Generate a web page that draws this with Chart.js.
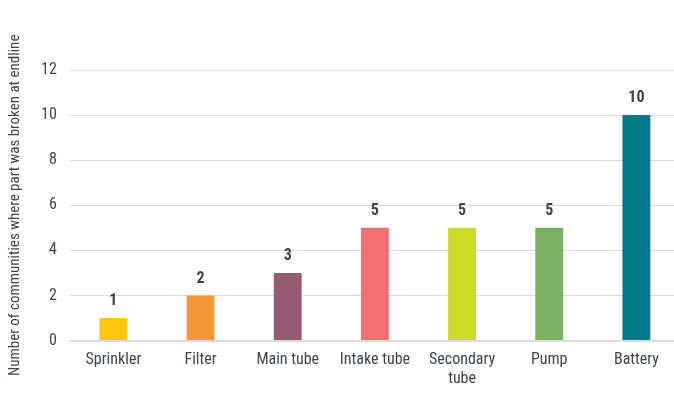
<!DOCTYPE html>
<html>
<head>
<meta charset="utf-8">
<script src="https://cdn.jsdelivr.net/npm/chart.js@4"></script>
<style>
  html, body { margin: 0; padding: 0; background: #fff; overflow: hidden; }
  #wrap { width: 680px; height: 399px; }
</style>
</head>
<body>
<div id="wrap"><canvas id="canvas"></canvas></div>
<script>
var parts = ["Sprinkler", "Filter", "Main tube", "Intake tube", ["Secondary", "tube"], "Pump", "Battery"];
var brokenCounts = [1, 2, 3, 5, 5, 5, 10];
var barColors = ["#ffc60b", "#f79638", "#955b70", "#f26f72", "#ccdb2a", "#78b262", "#007b8a"];
var yTicks = [0, 2, 4, 6, 8, 10, 12];

var fontFam = "'Roboto Condensed', 'Roboto', sans-serif";
var textCol = "#3d4550";

// draws the value on top of each bar
var valueLabels = {
    id: "valueLabels",
    afterDatasetsDraw: function (chart) {
        var ctx = chart.ctx;
        var meta = chart.getDatasetMeta(0);
        ctx.save();
        ctx.font = "bold 16px " + fontFam;
        ctx.fillStyle = textCol;
        ctx.textAlign = "center";
        ctx.textBaseline = "bottom";
        meta.data.forEach(function (bar, i) {
            ctx.fillText(chart.data.datasets[0].data[i], bar.x, bar.y - 9);
        });
        ctx.restore();
    }
};

window.onload = function () {
    var ctx = document.getElementById("canvas").getContext("2d");
    window.myBar = new Chart(ctx, {
        type: "bar",
        data: {
            labels: parts,
            datasets: [{
                data: brokenCounts,
                backgroundColor: barColors,
                barPercentage: 0.32,
                categoryPercentage: 1
            }]
        },
        plugins: [valueLabels],
        options: {
            responsive: true,
            maintainAspectRatio: false,
            animation: false,
            layout: { padding: { top: 70, right: 0, left: 2, bottom: 0 } },
            plugins: {
                legend: { display: false },
                tooltip: { enabled: false }
            },
            scales: {
                x: {
                    grid: { display: false, drawTicks: false },
                    border: { display: true, color: "#dcdcdc", width: 2 },
                    ticks: {
                        color: textCol,
                        padding: 10,
                        maxRotation: 0,
                        font: { family: fontFam, size: 16 }
                    }
                },
                y: {
                    min: 0,
                    max: 12,
                    afterBuildTicks: function (axis) {
                        axis.ticks = yTicks.map(function (v) { return { value: v }; });
                    },
                    grid: { color: "#dcdcdc", lineWidth: 1, drawTicks: false },
                    border: { display: false },
                    ticks: {
                        color: textCol,
                        padding: 13,
                        font: { family: fontFam, size: 16 }
                    },
                    title: {
                        display: true,
                        text: "Number of communities where part was broken at endline",
                        color: textCol,
                        padding: { top: 4, bottom: 4 },
                        font: { family: fontFam, size: 15 }
                    }
                }
            }
        }
    });
};
</script>
</body>
</html>
